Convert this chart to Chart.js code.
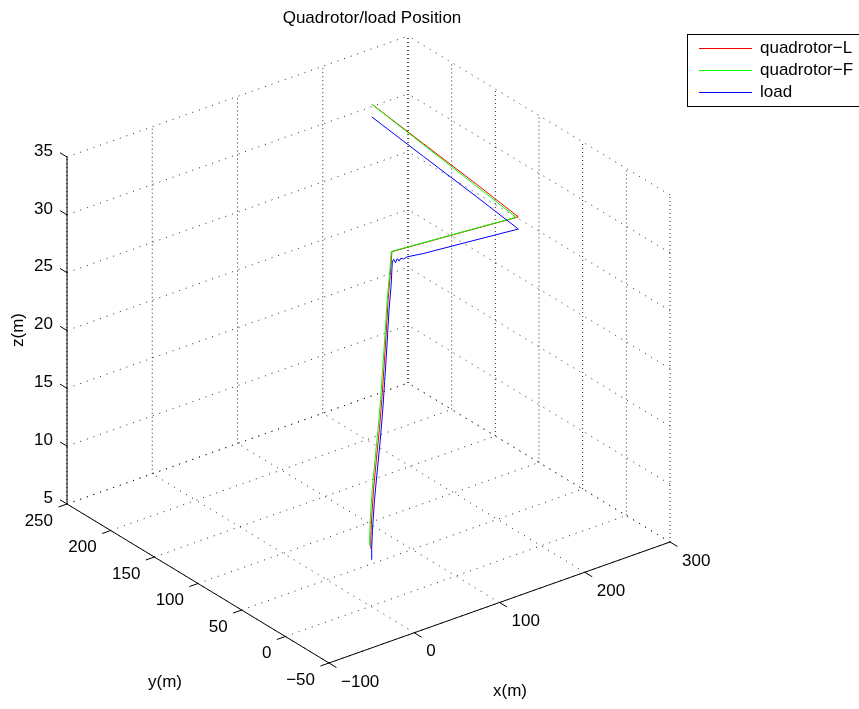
<!DOCTYPE html>
<html>
<head>
<meta charset="utf-8">
<script src="https://cdn.jsdelivr.net/npm/chart.js@4/dist/chart.umd.min.js"></script>
<style>
  html, body { margin: 0; padding: 0; background: #ffffff; }
  #wrap { width: 859px; height: 709px; position: relative; }
</style>
</head>
<body>
<div id="wrap"><canvas id="c"></canvas></div>
<script>
// ---------- data ----------
const xTicks = [-100, 0, 100, 200, 300];
const yTicks = [-50, 0, 50, 100, 150, 200, 250];
const zTicks = [5, 10, 15, 20, 25, 30, 35];
const seriesNames = ['quadrotor\u2212L', 'quadrotor\u2212F', 'load'];
const titleText = 'Quadrotor/load Position';
const xLabel = 'x(m)', yLabel = 'y(m)', zLabel = 'z(m)';

// quadrotor-L (red)
const quadLX = [0, 0.3, 1.2, 3.5, 6.8, 10.3, 13.2, 15.5, 18.2, 20.6, 23, 25, 60, 100, 161, 170, 180, 190];
const quadLY = [0, 0, 0, 0, 0, 0, 0, 0, 0, 0, 0, 0, -3, -6.5, -12, 45, 115, 184];
const quadLZ = [10, 11, 12.5, 15, 17.5, 20, 22.5, 25, 28, 31, 33, 35, 35, 35, 35, 35, 35, 35];
// quadrotor-F (green)
const quadFX = [0, 0.2, 1.0, 3.2, 6.5, 10.0, 13.0, 15.3, 18.0, 20.4, 22.8, 24.8, 60, 100, 159, 168, 179, 190];
const quadFY = [1.2, 1.2, 1.2, 1.2, 1.2, 1.2, 1.2, 1.2, 1.0, 0.8, 0.6, 0.5, -2.7, -6.2, -11.5, 45.2, 115.2, 184.2];
const quadFZ = [10.2, 11.1, 12.6, 15, 17.5, 20, 22.5, 25, 28, 31, 33, 35, 35, 35, 35, 35, 35, 35];
// load (blue)
const loadX = [1, 1.3, 2.2, 4.5, 7.8, 11.3, 14.2, 16.5, 19.2, 21.6, 24, 25.5, 27, 29, 31, 33, 35, 38, 42, 60, 100, 161, 170, 180, 190];
const loadY = [0, 0, 0, 0, 0, 0, 0, 0, 0, 0, 0, 0, -0.1, -0.2, -0.3, -0.4, -0.5, -0.6, -0.9, -2.5, -6, -12, 45, 115, 184];
const loadZ = [9, 10, 11.5, 14, 16.5, 19, 21.5, 24, 27, 30, 32, 34.1, 34.3, 33.95, 34.25, 34.0, 34.2, 34.05, 34.15, 34.05, 34.0, 33.95, 33.92, 33.9, 33.9];

// ---------- projection (orthographic view of the 3-D box) ----------
const VIEW = { ox: 329, oy: 663, ex: [0.8525, -0.3025], ey: [-0.8733, -0.53], ez: [0, -11.567] };
const xMin = xTicks[0], xMax = xTicks[xTicks.length - 1];
const yMin = yTicks[0], yMax = yTicks[yTicks.length - 1];
const zMin = zTicks[0], zMax = zTicks[zTicks.length - 1];
function proj(x, y, z) {
  const X = x - xMin, Y = y - yMin, Z = z - zMin;
  return { x: VIEW.ox + X * VIEW.ex[0] + Y * VIEW.ey[0] + Z * VIEW.ez[0],
           y: VIEW.oy + X * VIEW.ex[1] + Y * VIEW.ey[1] + Z * VIEW.ez[1] };
}

const FONT = '17px "Liberation Sans", Arial, Helvetica, sans-serif';
const datasets = [];
function seg(a, b, style) {
  datasets.push(Object.assign({
    data: [proj(a[0], a[1], a[2]), proj(b[0], b[1], b[2])],
    showLine: true, pointRadius: 0, pointHoverRadius: 0, borderWidth: 1, fill: false
  }, style));
}
const gridV = { borderColor: 'rgba(0,0,0,0.85)', borderDash: [1, 3], order: 100 };
const gridS = { borderColor: 'rgba(0,0,0,0.85)', borderDash: [1, 6], order: 100 };
const axisS = { borderColor: '#000000', order: 50 };

// floor grid (z = zMin)
xTicks.forEach(t => seg([t, yMin, zMin], [t, yMax, zMin], gridS));
yTicks.forEach(t => seg([xMin, t, zMin], [xMax, t, zMin], gridS));
// back wall y = yMax
xTicks.forEach(t => seg([t, yMax, zMin], [t, yMax, zMax], gridV));
zTicks.forEach(t => seg([xMin, yMax, t], [xMax, yMax, t], gridS));
// back wall x = xMax
yTicks.forEach(t => seg([xMax, t, zMin], [xMax, t, zMax], gridV));
zTicks.forEach(t => seg([xMax, yMin, t], [xMax, yMax, t], gridS));
// axis lines
seg([xMin, yMax, zMin], [xMin, yMax, zMax], axisS);
seg([xMin, yMin, zMin], [xMin, yMax, zMin], axisS);
seg([xMin, yMin, zMin], [xMax, yMin, zMin], axisS);
// tick marks
zTicks.forEach(t => seg([xMin, yMax, t], [xMin, yMax + 8, t], axisS));
yTicks.forEach(t => seg([xMin, t, zMin], [xMin - 10, t, zMin], axisS));
xTicks.forEach(t => seg([t, yMin, zMin], [t, yMin - 8.5, zMin], axisS));

function series(label, xs, ys, zs, color, order) {
  return { label: label, data: xs.map((x, i) => proj(x, ys[i], zs[i])), showLine: true,
           borderColor: color, backgroundColor: color, borderWidth: 1, pointRadius: 0,
           pointHoverRadius: 0, fill: false, order: order, tension: 0 };
}
const seriesColors = ['#ff0000', '#00ff00', '#0000ff'];
datasets.push(series(seriesNames[0], quadLX, quadLY, quadLZ, seriesColors[0], 3));
datasets.push(series(seriesNames[1], quadFX, quadFY, quadFZ, seriesColors[1], 2));
datasets.push(series(seriesNames[2], loadX, loadY, loadZ, seriesColors[2], 1));

function fmt(n) { return n < 0 ? '\u2212' + Math.abs(n) : String(n); }

const textPlugin = {
  id: 'text3d',
  afterDraw(chart) {
    const ctx = chart.ctx;
    ctx.save();
    ctx.fillStyle = '#000000';
    ctx.font = FONT;
    // z tick labels
    ctx.textAlign = 'right'; ctx.textBaseline = 'middle';
    zTicks.forEach(t => { const p = proj(xMin, yMax, t); ctx.fillText(fmt(t), p.x - 14, p.y - 6); });
    // y tick labels
    yTicks.forEach(t => { const p = proj(xMin, t, zMin); ctx.fillText(fmt(t), p.x - 14, p.y + 17); });
    // x tick labels
    ctx.textAlign = 'left';
    xTicks.forEach(t => { const p = proj(t, yMin, zMin); ctx.fillText(fmt(t), p.x + 12, p.y + 19); });
    // axis titles
    ctx.textAlign = 'center';
    ctx.fillText(xLabel, 510, 691);
    ctx.fillText(yLabel, 165, 682);
    ctx.save();
    ctx.translate(18, 330); ctx.rotate(-Math.PI / 2);
    ctx.fillText(zLabel, 0, 0);
    ctx.restore();
    // title
    ctx.textBaseline = 'alphabetic';
    ctx.fillText(titleText, 372, 23);
    // legend
    ctx.fillStyle = '#ffffff';
    ctx.fillRect(687.5, 34.5, 190, 72);
    ctx.strokeStyle = '#000000'; ctx.lineWidth = 1;
    ctx.strokeRect(687.5, 34.5, 190, 72);
    const rows = [48.5, 70.5, 92.5];
    ctx.textAlign = 'left'; ctx.textBaseline = 'middle';
    seriesNames.forEach((n, i) => {
      ctx.strokeStyle = seriesColors[i];
      ctx.beginPath(); ctx.moveTo(699, rows[i]); ctx.lineTo(752, rows[i]); ctx.stroke();
      ctx.fillStyle = '#000000';
      ctx.fillText(n, 760, rows[i]);
    });
    ctx.restore();
  }
};

new Chart(document.getElementById('c'), {
  type: 'scatter',
  data: { datasets: datasets },
  options: {
    responsive: true, maintainAspectRatio: false, animation: false,
    layout: { padding: 0 },
    events: [],
    plugins: { legend: { display: false }, tooltip: { enabled: false }, title: { display: false } },
    scales: {
      x: { type: 'linear', display: false, min: 0, max: 859 },
      y: { type: 'linear', display: false, min: 0, max: 709, reverse: true }
    }
  },
  plugins: [textPlugin]
});
</script>
</body>
</html>
